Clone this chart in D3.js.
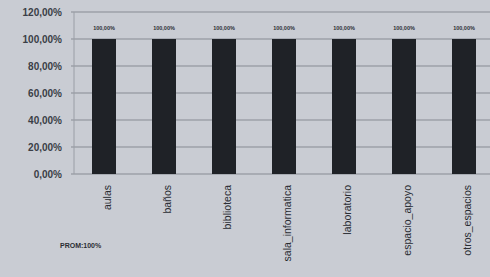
<!DOCTYPE html>
<html>
<head>
<meta charset="utf-8">
<script src="https://cdn.jsdelivr.net/npm/d3@7"></script>
<style>
    body { margin: 0; background: #c9ccd3; }
    svg { display: block; font-family: "Liberation Sans", Arial, sans-serif; }
</style>
</head>
<body>
<svg id="chart"></svg>
<script>
const categories = ['aulas', 'baños', 'biblioteca', 'sala_informatica', 'laboratorio', 'espacio_apoyo', 'otros_espacios'];
const values = [100, 100, 100, 100, 100, 100, 100];
const yTicks = [0, 20, 40, 60, 80, 100, 120];
const note = 'PROM:100%';

const width = 490;
const height = 277;
const margin = {top: 12, right: -4, bottom: 103, left: 74};
const innerW = width - margin.left - margin.right;
const innerH = height - margin.top - margin.bottom;

const fmt = v => v.toFixed(2).replace('.', ',') + '%';

const svg = d3.select('#chart')
    .attr('width', width)
    .attr('height', height);

const g = svg.append('g')
    .attr('transform', `translate(${margin.left}, ${margin.top})`);

const xScale = d3.scaleBand().domain(categories).range([0, innerW])
    .paddingInner(0.6).paddingOuter(0.3);
const yScale = d3.scaleLinear().domain([0, 120]).range([innerH, 0]);

// gridlines
g.selectAll('.grid')
    .data(yTicks)
    .enter()
    .append('line')
    .attr('x1', -3)
    .attr('x2', innerW)
    .attr('y1', d => yScale(d))
    .attr('y2', d => yScale(d))
    .attr('stroke', '#878b93')
    .attr('stroke-width', 1);

const yAxis = d3.axisLeft(yScale)
    .tickValues(yTicks)
    .tickFormat(fmt)
    .tickSize(0)
    .tickPadding(12);
g.append('g')
    .call(yAxis)
    .call(s => s.select('.domain').remove())
    .selectAll('text')
    .attr('fill', '#3a3e46')
    .style('font-size', '10px')
    .style('font-weight', 'bold');

g.append('line')
    .attr('x1', 0).attr('x2', 0)
    .attr('y1', 0).attr('y2', innerH)
    .attr('stroke', '#9a9ea6');

g.selectAll('.bar')
    .data(values)
    .enter()
    .append('rect')
    .attr('x', (d, i) => xScale(categories[i]))
    .attr('width', xScale.bandwidth())
    .attr('y', d => yScale(d))
    .attr('height', d => innerH - yScale(d))
    .attr('fill', '#1f2227');

g.selectAll('.lbl')
    .data(values)
    .enter()
    .append('text')
    .attr('x', (d, i) => xScale(categories[i]) + xScale.bandwidth() / 2)
    .attr('y', d => yScale(d) - 9)
    .attr('text-anchor', 'middle')
    .attr('fill', '#2c3036')
    .style('font-size', '5.5px')
    .style('font-weight', 'bold')
    .text(d => fmt(d));

const xAxis = d3.axisBottom(xScale).tickSize(0).tickPadding(0);
g.append('g')
    .attr('transform', `translate(0, ${innerH})`)
    .call(xAxis)
    .call(s => s.select('.domain').remove())
    .selectAll('text')
    .attr('transform', 'rotate(-90)')
    .attr('text-anchor', 'end')
    .attr('x', -11)
    .attr('y', 3)
    .attr('dy', '0.35em')
    .attr('fill', '#2a2d33')
    .style('font-size', '10.5px');

svg.append('text')
    .attr('x', 60)
    .attr('y', 248)
    .attr('fill', '#2a2d33')
    .style('font-size', '7px')
    .style('font-weight', 'bold')
    .text(note);
</script>
</body>
</html>
